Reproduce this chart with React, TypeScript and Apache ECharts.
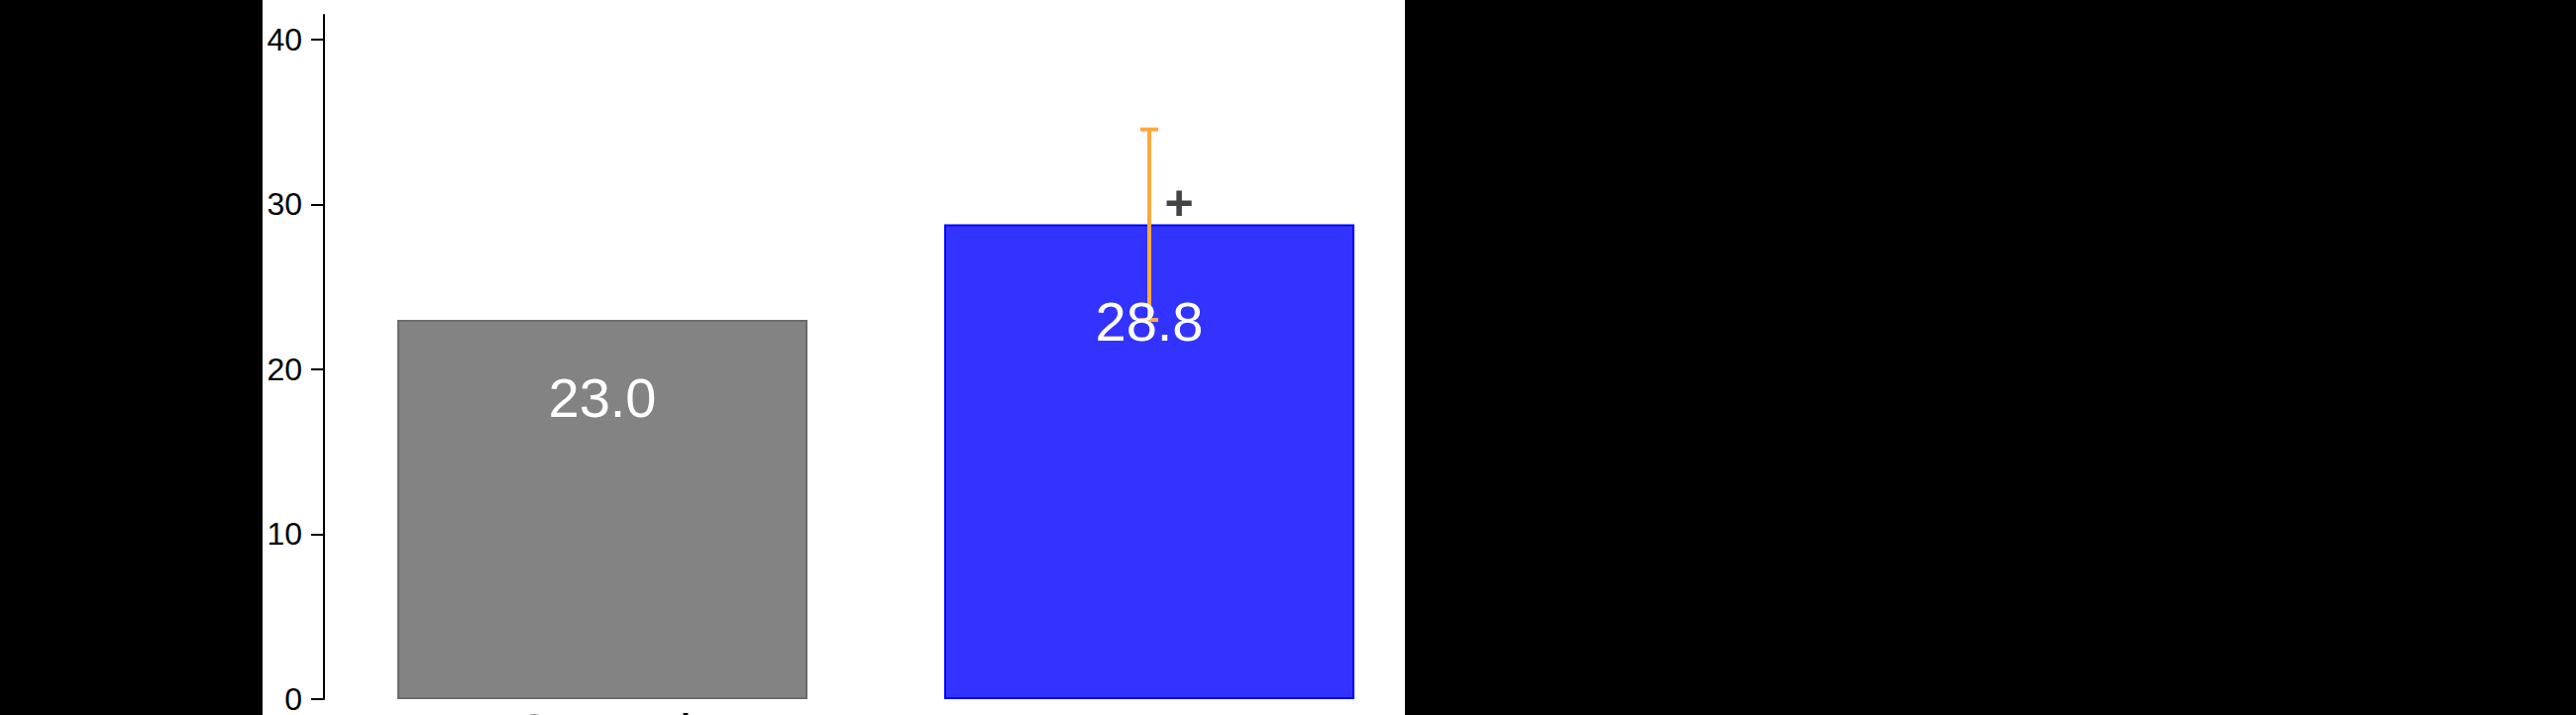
import React, { useEffect, useRef } from 'react'
import * as echarts from 'echarts'

// bar means
const categories = ['Control', 'Treatment']
const means = [23.0, 28.8]
const barColors = ['#838383', '#3333ff']
const barBorders = ['#6b6b6b', '#0000ff']

// error bar (only on Treatment): [category index, low, high]
const errorBars = [[1, 23.0, 34.55]]
// significance mark: [category index, y value, symbol]
const sigMarks = [[1, 30.1, '+']]

const yTicks = [0, 10, 20, 30, 40]

const FONT = 'Liberation Sans, Arial, sans-serif'

export default function App() {
  const chartRef = useRef<HTMLDivElement>(null)

  useEffect(() => {
    if (!chartRef.current) return
    const chart = echarts.init(chartRef.current, undefined, { renderer: 'svg' })

    const option: any = {
      animation: false,
      textStyle: { fontFamily: FONT },
      grid: { left: 332, right: 1164, top: 15, bottom: 16, outerBoundsMode: 'none', containLabel: false },
      xAxis: {
        type: 'category',
        data: categories,
        axisLine: { show: false },
        axisTick: { show: false },
        axisLabel: { fontSize: 56, color: '#000', margin: 6 },
      },
      yAxis: {
        type: 'value',
        min: 0,
        max: 41.5,
        interval: 10,
        offset: 5,
        splitLine: { show: false },
        axisLine: { show: true, lineStyle: { color: '#000', width: 2 } },
        axisTick: {
          show: true,
          length: 13,
          customValues: yTicks,
          lineStyle: { color: '#000', width: 2 },
        },
        axisLabel: {
          fontSize: 32,
          color: '#000',
          margin: 22,
          customValues: yTicks,
        },
      },
      series: [
        {
          type: 'bar',
          barWidth: '75%',
          z: 2,
          data: means.map((v, i) => ({
            value: v,
            itemStyle: { color: barColors[i], borderColor: barBorders[i], borderWidth: 2 },
          })),
        },
        {
          // error bar, drawn over the bar
          type: 'custom',
          z: 3,
          data: errorBars,
          renderItem: (params: any, api: any) => {
            const idx = api.value(0)
            const top = api.coord([idx, api.value(2)])
            const bot = api.coord([idx, api.value(1)])
            const cap = 9
            const style = { stroke: '#ffa940', lineWidth: 4 }
            return {
              type: 'group',
              children: [
                { type: 'line', shape: { x1: top[0], y1: top[1], x2: bot[0], y2: bot[1] }, style },
                { type: 'line', shape: { x1: top[0] - cap, y1: top[1], x2: top[0] + cap, y2: top[1] }, style },
                { type: 'line', shape: { x1: bot[0] - cap, y1: bot[1], x2: bot[0] + cap, y2: bot[1] }, style },
              ],
            }
          },
        },
        {
          // value labels, above the error bar
          type: 'custom',
          z: 4,
          data: means.map((v, i) => [i, v]),
          renderItem: (params: any, api: any) => {
            const v = api.value(1)
            const top = api.coord([api.value(0), v])
            const base = api.coord([api.value(0), 0])
            return {
              type: 'text',
              x: top[0],
              y: top[1] + (base[1] - top[1]) * 0.205,
              style: {
                text: Number(v).toFixed(1),
                fontSize: 56,
                fill: '#fff',
                align: 'center',
                verticalAlign: 'middle',
                fontFamily: FONT,
              },
            }
          },
        },
        {
          type: 'custom',
          z: 5,
          data: sigMarks,
          renderItem: (params: any, api: any) => {
            const p = api.coord([api.value(0), api.value(1)])
            return {
              type: 'text',
              x: p[0] + 30,
              y: p[1],
              style: {
                text: String(sigMarks[params.dataIndex][2]),
                fontSize: 50,
                fontWeight: 'bold',
                fill: '#444',
                align: 'center',
                verticalAlign: 'middle',
                fontFamily: FONT,
              },
            }
          },
        },
      ],
    }

    chart.setOption(option)
    return () => {
      chart.dispose()
    }
  }, [])

  return (
    <div style={{ position: 'absolute', left: 0, top: 0, width: 2600, height: 722, background: '#000' }}>
      <div style={{ position: 'absolute', left: 265, top: 0, width: 1153, height: 722, background: '#fff' }} />
      <div ref={chartRef} style={{ position: 'absolute', left: 0, top: 0, width: 2600, height: 722 }} />
    </div>
  )
}
